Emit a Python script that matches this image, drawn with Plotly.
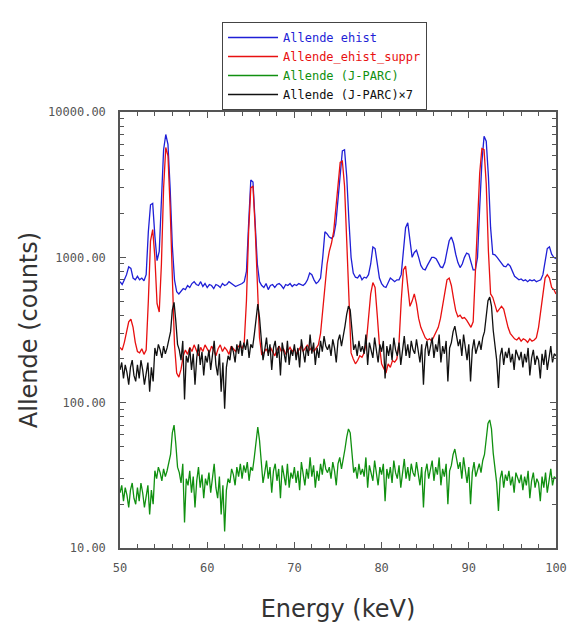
import plotly.graph_objects as go

# ---- data ----
energy = [50 + 0.25 * i for i in range(201)]          # keV, for ehist series
energy_jparc = [50 + 0.2 * i for i in range(251)]     # keV, for J-PARC series

ehist = [
    680, 650, 700, 760, 860, 840, 720, 700,            # 50.00-51.75
    740, 700, 720, 690, 760, 1500, 2300, 2350,         # 52.00-53.75
    1400, 950, 1100, 2500, 5500, 7000, 6000, 3000,     # 54.00-55.75
    1200, 700, 580, 560, 590, 610, 600, 640,           # 56.00-57.75
    620, 660, 680, 650, 640, 680, 630, 660,            # 58.00-59.75
    620, 650, 640, 610, 650, 640, 620, 660,            # 60.00-61.75
    640, 650, 680, 660, 640, 630, 640, 650,            # 62.00-63.75
    660, 680, 800, 1700, 3400, 3300, 1800, 900,        # 64.00-65.75
    680, 640, 620, 660, 600, 640, 650, 620,            # 66.00-67.75
    650, 660, 640, 610, 650, 640, 660, 630,            # 68.00-69.75
    650, 640, 660, 650, 640, 660, 700, 780,            # 70.00-71.75
    760, 700, 660, 680, 720, 1000, 1500, 1450,         # 72.00-73.75
    1380, 1350, 1400, 1700, 2600, 4000, 5400, 5500,    # 74.00-75.75
    3600, 1800, 1000, 780, 730, 720, 760, 700,         # 76.00-77.75
    730, 720, 760, 900, 1180, 1150, 900, 720,          # 78.00-79.75
    660, 630, 620, 660, 720, 700, 680, 700,            # 80.00-81.75
    700, 760, 1100, 1600, 1730, 1350, 1000, 1080,      # 82.00-83.75
    1120, 1000, 880, 830, 820, 880, 950, 1000,         # 84.00-85.75
    1000, 980, 920, 860, 850, 920, 1100, 1300,         # 86.00-87.75
    1380, 1250, 1050, 920, 850, 900, 1000, 1070,       # 88.00-89.75
    1050, 920, 820, 820, 1000, 2200, 4500, 6800,       # 90.00-91.75
    6300, 3600, 1600, 1050, 1040, 1000, 950, 900,      # 92.00-93.75
    870, 860, 900, 870, 800, 740, 720, 700,            # 94.00-95.75
    710, 690, 700, 680, 700, 690, 700, 680,            # 96.00-97.75
    690, 700, 760, 950, 1150, 1180, 1050, 1000,        # 98.00-99.75
    980,                                               # 100.00
]

ehist_suppr = [
    240, 230, 260, 300, 360, 375, 330, 260,            # 50.00-51.75
    225, 220, 235, 215, 230, 500, 1300, 1550,          # 52.00-53.75
    1000, 480, 420, 900, 3000, 5700, 5000, 2200,       # 54.00-55.75
    700, 250, 160, 150, 170, 210, 230, 215,            # 56.00-57.75
    240, 225, 250, 230, 210, 240, 225, 250,            # 58.00-59.75
    235, 220, 245, 230, 210, 235, 250, 225,            # 60.00-61.75
    240, 230, 215, 245, 235, 225, 240, 250,            # 62.00-63.75
    235, 260, 500, 1500, 3000, 3100, 1600, 600,        # 64.00-65.75
    280, 215, 220, 235, 220, 240, 225, 210,            # 66.00-67.75
    230, 245, 225, 235, 215, 230, 240, 225,            # 68.00-69.75
    235, 215, 230, 245, 225, 235, 250, 230,            # 70.00-71.75
    240, 225, 235, 250, 300, 420, 650, 900,            # 72.00-73.75
    1100, 1250, 1500, 2100, 3300, 4500, 4600, 3100,    # 74.00-75.75
    1300, 450, 220, 200, 185, 195, 210, 205,           # 76.00-77.75
    220, 260, 380, 560, 670, 620, 400, 250,            # 78.00-79.75
    185, 170, 160, 185, 175, 195, 190, 200,            # 80.00-81.75
    260, 500, 820, 870, 650, 460, 500, 560,            # 82.00-83.75
    480, 380, 330, 300, 280, 270, 275, 265,            # 84.00-85.75
    285, 300, 330, 380, 470, 600, 700, 720,            # 86.00-87.75
    640, 520, 430, 390, 400, 380, 385, 370,            # 88.00-89.75
    350, 330, 360, 700, 1700, 3800, 5600, 5500,        # 90.00-91.75
    3200, 1100, 560, 530, 480, 420, 440, 460,          # 92.00-93.75
    440, 380, 330, 300, 285, 275, 270, 280,            # 94.00-95.75
    265, 275, 270, 260, 275, 265, 270, 280,            # 96.00-97.75
    330, 430, 580, 720, 760, 720, 620, 600,            # 98.00-99.75
    560,                                               # 100.00
]

jparc = [
    24, 27, 21, 26, 23, 19, 25, 28, 22, 20,            # 50.0-51.8
    26, 21, 28, 24, 19, 23, 27, 17, 25, 20,            # 52.0-53.8
    34, 30, 36, 33, 29, 35, 31, 34, 38, 44,            # 54.0-55.8
    62, 70, 52, 36, 33, 28, 38, 15, 30, 27,            # 56.0-57.8
    34, 24, 31, 19, 29, 36, 26, 32, 22, 30,            # 58.0-59.8
    27, 33, 24, 30, 38, 26, 22, 31, 17, 27,            # 60.0-61.8
    13, 25, 30, 28, 35, 32, 27, 36, 31, 38,            # 62.0-63.8
    30, 37, 33, 39, 29, 36, 34, 42, 55, 68,            # 64.0-65.8
    55, 38, 28, 33, 40, 30, 36, 24, 34, 38,            # 66.0-67.8
    29, 35, 22, 37, 31, 27, 38, 26, 33, 30,            # 68.0-69.8
    36, 28, 34, 25, 39, 31, 27, 35, 30, 42,            # 70.0-71.8
    31, 37, 26, 34, 29, 38, 32, 41, 35, 33,            # 72.0-73.8
    36, 30, 39, 34, 27, 38, 42, 35, 40, 48,            # 74.0-75.8
    58, 66, 62, 45, 33, 36, 30, 38, 32, 35,            # 76.0-77.8
    31, 42, 26, 37, 33, 29, 40, 34, 27, 36,            # 78.0-79.8
    32, 38, 21, 35, 30, 36, 28, 40, 33, 30,            # 80.0-81.8
    37, 26, 34, 41, 30, 36, 29, 38, 33, 31,            # 82.0-83.8
    39, 32, 27, 36, 19, 33, 38, 30, 35, 40,            # 84.0-85.8
    29, 36, 32, 42, 27, 35, 31, 38, 20, 34,            # 86.0-87.8
    37, 44, 48, 40, 35, 39, 30, 42, 33, 28,            # 88.0-89.8
    36, 20, 33, 39, 31, 35, 38, 33, 40, 44,            # 90.0-91.8
    58, 72, 76, 66, 45, 34, 28, 18, 30, 34,            # 92.0-93.8
    26, 32, 29, 34, 27, 31, 24, 33, 30, 28,            # 94.0-95.8
    32, 25, 31, 27, 34, 22, 29, 33, 26, 30,            # 96.0-97.8
    28, 21, 31, 26, 33, 24, 29, 35, 27, 31,            # 98.0-99.8
    30,                                                # 100.0
]

scale_factor = 7
jparc_scaled = [v * scale_factor for v in jparc]

x_ticks = [50, 60, 70, 80, 90, 100]
x_minor = [52, 54, 56, 58, 62, 64, 66, 68, 72, 74, 76, 78, 82, 84, 86, 88, 92, 94, 96, 98]
y_ticks = [10, 100, 1000, 10000]
y_tick_text = ["10.00", "100.00", "1000.00", "10000.00"]
y_minor = [m * d for d in (10, 100, 1000) for m in range(2, 10)]

# ---- figure ----
BLUE = "#1f1fd6"
RED = "#e81010"
GREEN = "#109010"
BLACK = "#111111"
MONO = "DejaVu Sans Mono"
TITLE_FONT = "DejaVu Sans"

series = [
    (energy, ehist, "Allende ehist", BLUE),
    (energy, ehist_suppr, "Allende_ehist_suppr", RED),
    (energy_jparc, jparc, "Allende (J-PARC)", GREEN),
    (energy_jparc, jparc_scaled, "Allende (J-PARC)×7", BLACK),
]

fig = go.Figure()
for xs, ys, name, col in series:
    fig.add_trace(go.Scatter(
        x=xs, y=ys, mode="lines",
        line=dict(color=col, width=1.3),
        name=f"<span style='color:{col}'>{name}</span>",
    ))

axis_common = dict(
    showline=True, linecolor="#555", linewidth=1.5, mirror="allticks",
    ticks="inside", ticklen=6, tickcolor="#555", tickwidth=1,
    showgrid=False, zeroline=False,
    tickfont=dict(family=MONO, size=12, color="#555"),
    ticklabeloverflow="allow",
)

fig.update_xaxes(
    range=[50, 100], tickmode="array", tickvals=x_ticks,
    minor=dict(tickvals=x_minor, ticks="inside", ticklen=4, tickcolor="#555"),
    ticklabelstandoff=8,
    title=dict(text="Energy (keV)", font=dict(family=TITLE_FONT, size=24, color="#333"), standoff=26),
    **axis_common,
)
fig.update_yaxes(
    type="log", range=[1, 4], tickmode="array", tickvals=y_ticks, ticktext=y_tick_text,
    minor=dict(tickvals=y_minor, ticks="inside", ticklen=4, tickcolor="#555"),
    ticklabelstandoff=10,
    title=dict(text="Allende (counts)", font=dict(family=TITLE_FONT, size=24, color="#333"), standoff=4),
    **axis_common,
)

fig.update_layout(
    width=569, height=623,
    margin=dict(l=120, r=13, t=112, b=75, autoexpand=False),
    paper_bgcolor="white", plot_bgcolor="white",
    showlegend=True,
    legend=dict(
        x=0.234, y=1.2064, xanchor="left", yanchor="top",
        bordercolor="#444", borderwidth=1, bgcolor="white",
        font=dict(family=MONO, size=12),
        itemwidth=50,
        tracegroupgap=0,
    ),
)

fig.write_html(
    "out.html",
    config={"displayModeBar": False},
    post_script="document.body.style.margin='0';",
)
